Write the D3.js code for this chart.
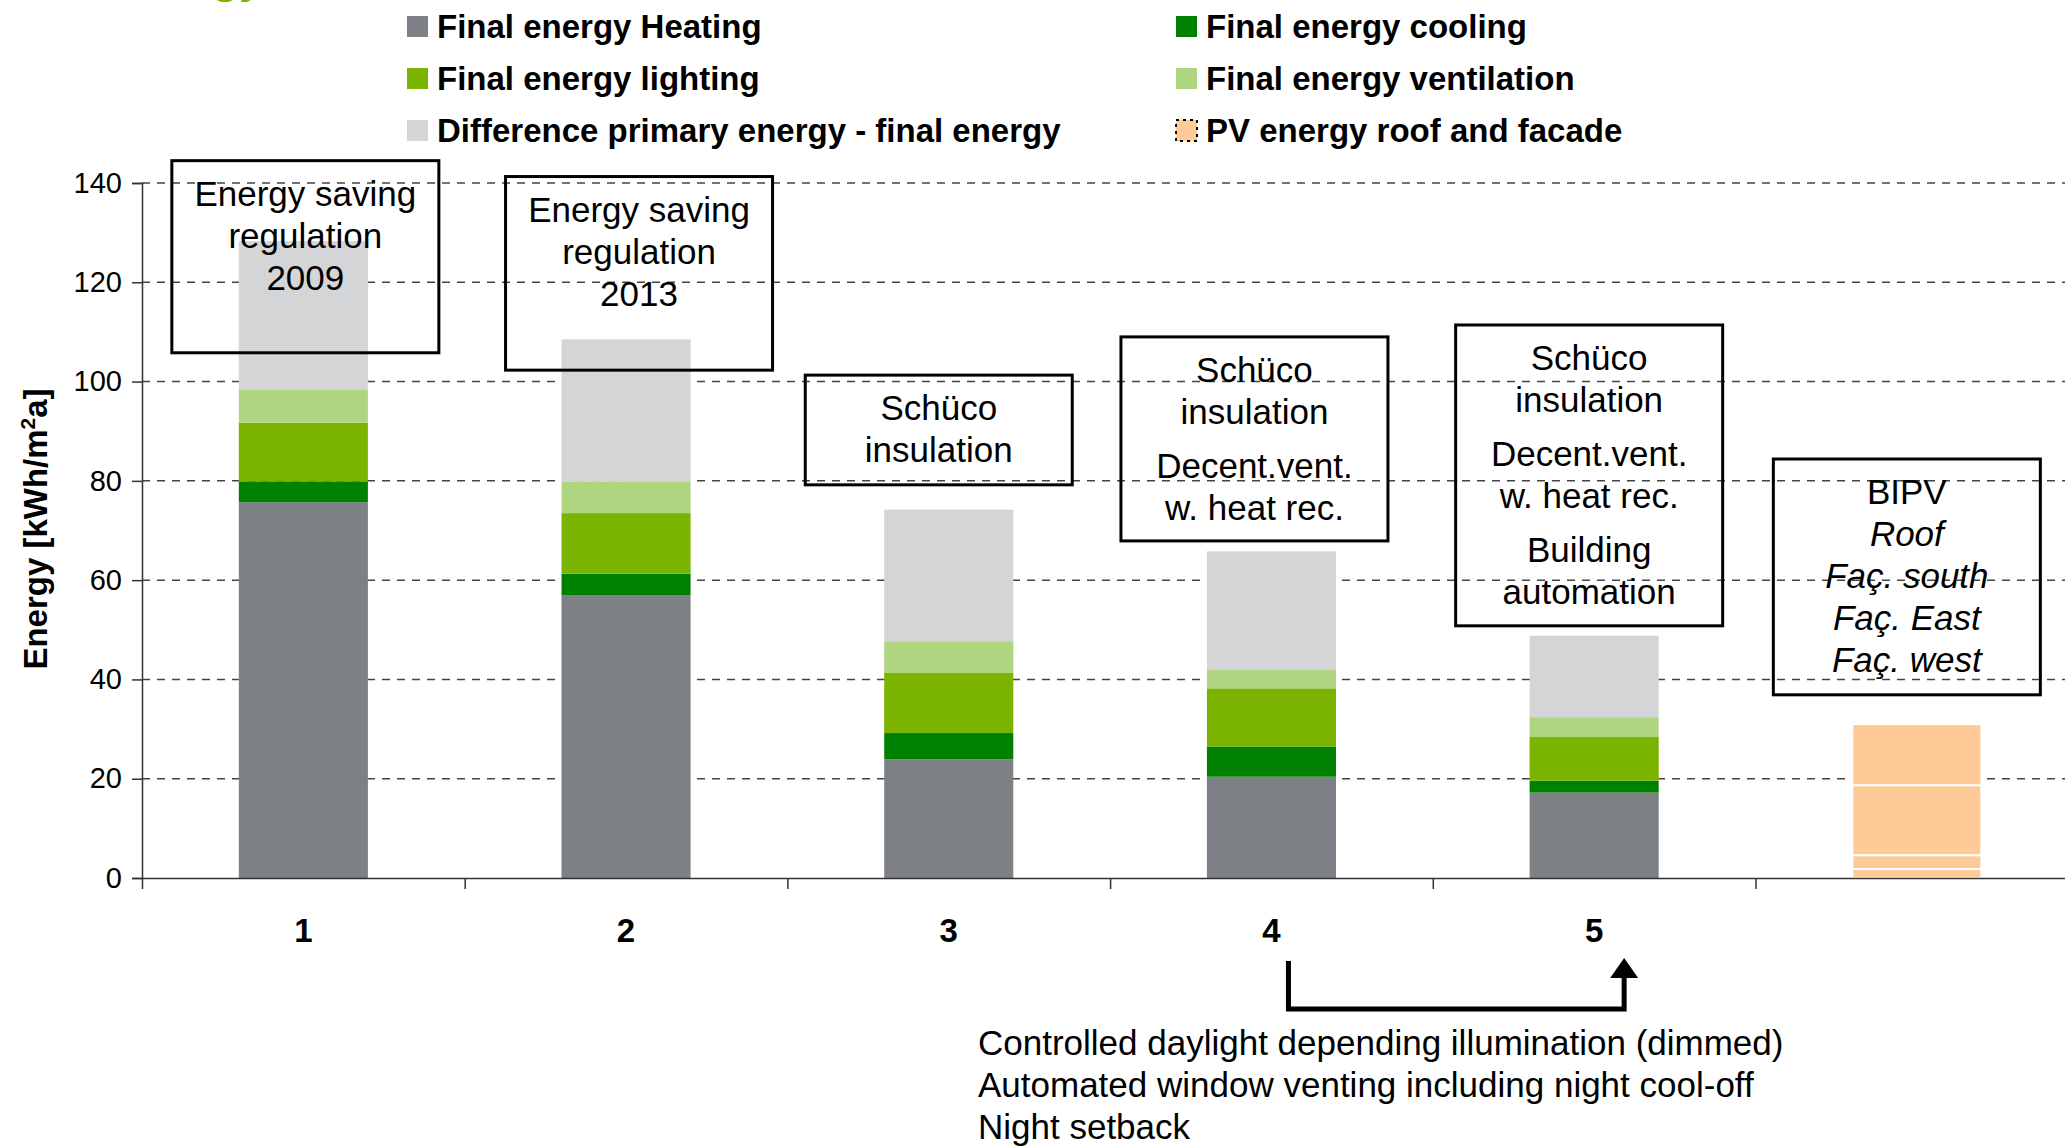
<!DOCTYPE html>
<html>
<head>
<meta charset="utf-8">
<script src="https://cdn.jsdelivr.net/npm/d3@7"></script>
<style>
  body { margin: 0; background: #fff; }
  svg { display: block; font-family: "Liberation Sans", Arial, sans-serif; }
</style>
</head>
<body>
<script>
// data (kWh/m2a)
const categories = ["1", "2", "3", "4", "5", "6"];
const catLabels = ["1", "2", "3", "4", "5", ""];
const heating     = [75.7, 57.0, 23.9, 20.4, 17.2, 0];
const cooling     = [4.2, 4.3, 5.3, 6.1, 2.4, 0];
const lighting    = [11.8, 12.2, 12.2, 11.7, 8.8, 0];
const ventilation = [6.6, 6.3, 6.3, 3.7, 4.0, 0];
const difference  = [30.0, 28.7, 26.5, 23.9, 16.4, 0];
// PV: roof + facades, only for the last column
const pvParts = [1.8, 2.8, 14.1, 12.3];
const yTicks = [0, 20, 40, 60, 80, 100, 120, 140];

const seriesNames = ["Final energy Heating", "Final energy cooling", "Final energy lighting",
  "Final energy ventilation", "Difference primary energy - final energy", "PV energy roof and facade"];
const colors = ["#7d8085", "#008000", "#7ab300", "#b0d580", "#d4d5d7", "#fecb98"];

const notes = [
  {cat: "1", dx: 2, top: 144.5, bottom: 105.8, groups: [["Energy saving", "regulation", "2009"]]},
  {cat: "2", dx: 13, top: 141.3, bottom: 102.3, groups: [["Energy saving", "regulation", "2013"]]},
  {cat: "3", dx: -10, top: 101.3, bottom: 79.2, groups: [["Schüco", "insulation"]]},
  {cat: "4", dx: -17, top: 109, bottom: 67.9, groups: [["Schüco", "insulation"], ["Decent.vent.", "w. heat rec."]]},
  {cat: "5", dx: -5, top: 111.4, bottom: 50.8, groups: [["Schüco", "insulation"], ["Decent.vent.", "w. heat rec."], ["Building", "automation"]]},
  {cat: "6", dx: -10, top: 84.4, bottom: 36.9, groups: [["BIPV", "Roof", "Faç. south", "Faç. East", "Faç. west"]]}
];
const bottomText = ["Controlled daylight depending illumination (dimmed)",
  "Automated window venting including night cool-off", "Night setback"];

const W = 2065, H = 1146;
const margin = {left: 142, top: 183, bottom: 268};
const plotW = 6 * 322.7;

const svg = d3.select("body").append("svg").attr("width", W).attr("height", H);

// cut-off green title at the very top
svg.append("text").attr("x", 212).attr("y", -7)
  .attr("font-size", 44).attr("font-weight", "bold").attr("fill", "#7ab300").text("gy");

const x = d3.scaleBand().domain(categories).range([margin.left, margin.left + plotW])
  .paddingInner(0.6).paddingOuter(0.3);
const xLin = d3.scaleLinear().domain([0, 6]).range([margin.left, margin.left + plotW]);
const y = d3.scaleLinear().domain([0, 140]).range([H - margin.bottom, margin.top]);

// grid
svg.append("g").selectAll("line").data(yTicks.filter(d => d > 0)).enter().append("line")
  .attr("x1", margin.left).attr("x2", W)
  .attr("y1", d => y(d)).attr("y2", d => y(d))
  .attr("stroke", "#444").attr("stroke-width", 1.5).attr("stroke-dasharray", "8,7");

// stacked bars
const rows = categories.map((c, i) => ({cat: c, heating: heating[i], cooling: cooling[i],
  lighting: lighting[i], ventilation: ventilation[i], difference: difference[i]}));
const keys = ["heating", "cooling", "lighting", "ventilation", "difference"];
const stacked = d3.stack().keys(keys)(rows);
svg.append("g").selectAll("g").data(stacked).enter().append("g")
  .attr("fill", (d, i) => colors[i])
  .selectAll("rect").data(d => d.filter(p => p[1] > p[0])).enter().append("rect")
  .attr("x", d => x(d.data.cat)).attr("width", x.bandwidth())
  .attr("y", d => y(d[1])).attr("height", d => y(d[0]) - y(d[1]));

// PV column
let acc = 0;
const pvStack = pvParts.map(v => { const s = {y0: acc, y1: acc + v}; acc += v; return s; });
svg.append("g").selectAll("rect").data(pvStack).enter().append("rect")
  .attr("x", x("6")).attr("width", x.bandwidth())
  .attr("y", d => y(d.y1)).attr("height", d => y(d.y0) - y(d.y1))
  .attr("fill", colors[5]).attr("stroke", "#fff").attr("stroke-width", 2);

// y axis
const yAxis = svg.append("g").attr("transform", `translate(${margin.left},0)`)
  .call(d3.axisLeft(y).tickValues(yTicks).tickSize(10).tickPadding(10));
yAxis.select(".domain").attr("stroke", "#333").attr("stroke-width", 1.5);
yAxis.selectAll(".tick line").attr("stroke", "#333").attr("stroke-width", 1.5);
yAxis.selectAll(".tick text").attr("font-size", 29).attr("fill", "#000")
  .attr("font-family", "'Liberation Sans', Arial, sans-serif");

// x axis: boundary ticks + centred labels
const xAxis = svg.append("g").attr("transform", `translate(0,${y(0)})`)
  .call(d3.axisBottom(xLin).ticks(6).tickSize(11).tickFormat("").tickSizeOuter(0));
xAxis.select(".domain").attr("stroke", "#333").attr("stroke-width", 1.5);
xAxis.selectAll(".tick line").attr("stroke", "#333").attr("stroke-width", 1.5);
svg.append("g").selectAll("text").data(categories).enter().append("text")
  .attr("x", d => x(d) + x.bandwidth() / 2).attr("y", y(0) + 64)
  .attr("text-anchor", "middle").attr("font-size", 33).attr("font-weight", "bold")
  .text((d, i) => catLabels[i]);

// y title
const yt = svg.append("text").attr("transform", "translate(47,529) rotate(-90)")
  .attr("text-anchor", "middle").attr("font-size", 33).attr("font-weight", "bold");
yt.append("tspan").text("Energy [kWh/m");
yt.append("tspan").attr("dy", -12).attr("font-size", 21).text("2");
yt.append("tspan").attr("dy", 12).text("a]");

// note boxes
const boxW = 267;
notes.forEach((n, k) => {
  const cx = x(n.cat) + x.bandwidth() / 2 + n.dx;
  svg.append("rect").attr("x", cx - boxW / 2).attr("y", y(n.top))
    .attr("width", boxW).attr("height", y(n.bottom) - y(n.top))
    .attr("fill", "none").attr("stroke", "#000").attr("stroke-width", 3);
  let ty = y(n.top) + 45;
  n.groups.forEach((g, gi) => {
    if (gi > 0) ty += 12;
    g.forEach((line, li) => {
      svg.append("text").attr("x", cx).attr("y", ty).attr("text-anchor", "middle")
        .attr("font-size", 35)
        .attr("font-style", (k === 5 && li > 0) ? "italic" : "normal")
        .text(line);
      ty += 42;
    });
  });
});

// legend
const legend = svg.append("g");
seriesNames.forEach((name, i) => {
  const col = i % 2, row = Math.floor(i / 2);
  const lx = col === 0 ? 407 : 1176, ly = 16 + row * 52;
  legend.append("rect").attr("x", lx).attr("y", ly).attr("width", 21).attr("height", 21)
    .attr("fill", colors[i])
    .attr("stroke", i === 5 ? "#000" : "none").attr("stroke-width", 2).attr("stroke-dasharray", i === 5 ? "3,4" : null);
  legend.append("text").attr("x", lx + 30).attr("y", ly + 22)
    .attr("font-size", 33).attr("font-weight", "bold").text(name);
});

// bracket arrow from 4 to 5
const ax1 = x("4") + x.bandwidth() / 2 + 17, ax2 = x("5") + x.bandwidth() / 2 + 30;
svg.append("path")
  .attr("d", `M${ax1},961 V1009 H${ax2} V974`)
  .attr("fill", "none").attr("stroke", "#000").attr("stroke-width", 5);
svg.append("path")
  .attr("d", `M${ax2},958 L${ax2 - 14},978 L${ax2 + 14},978 Z`).attr("fill", "#000");

svg.append("g").selectAll("text").data(bottomText).enter().append("text")
  .attr("x", 978).attr("y", (d, i) => 1055 + i * 42)
  .attr("font-size", 35).text(d => d);
</script>
</body>
</html>
